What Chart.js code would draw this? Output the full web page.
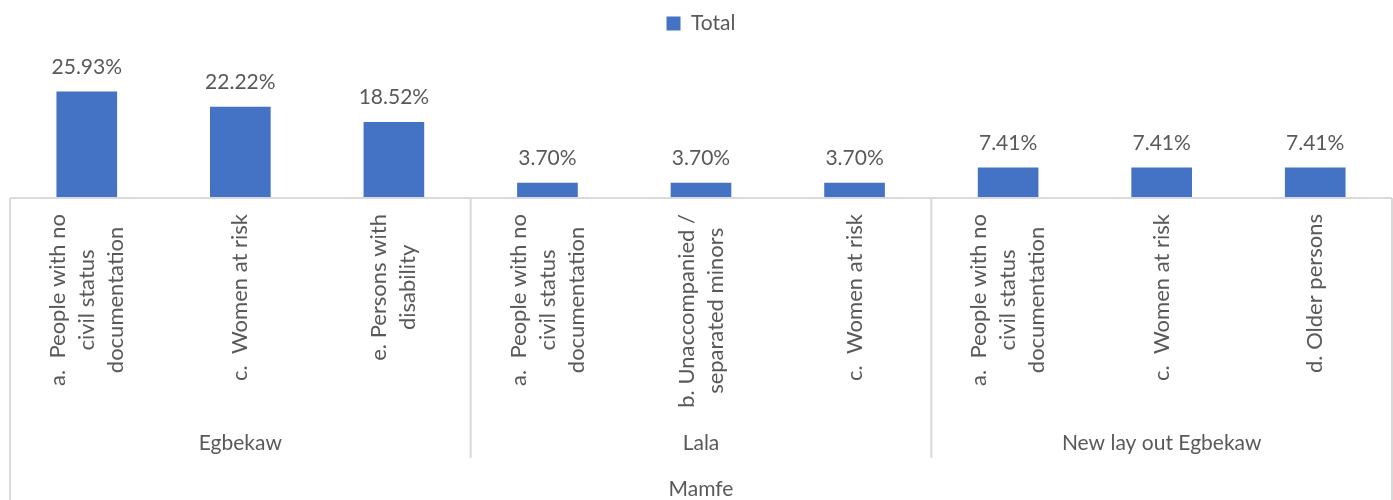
<!DOCTYPE html>
<html>
<head>
<meta charset="utf-8">
<script src="https://cdn.jsdelivr.net/npm/chart.js@4.4.0/dist/chart.umd.min.js"></script>
<style>
  html, body { margin: 0; padding: 0; background: #fff; }
  #wrap { width: 1393px; height: 500px; }
</style>
</head>
<body>
<div id="wrap"><canvas id="chart"></canvas></div>
<script>
// data
const categories = [
  ["a.  People with no", "civil status", "documentation"],
  ["c.  Women at risk"],
  ["e. Persons with", "disability"],
  ["a.  People with no", "civil status", "documentation"],
  ["b. Unaccompanied /", "separated minors"],
  ["c.  Women at risk"],
  ["a.  People with no", "civil status", "documentation"],
  ["c.  Women at risk"],
  ["d. Older persons"],
];
const values = [25.93, 22.22, 18.52, 3.70, 3.70, 3.70, 7.41, 7.41, 7.41];
const groups = ["Egbekaw", "Lala", "New lay out Egbekaw"];
const groupSizes = [3, 3, 3];
const topGroup = "Mamfe";
const seriesName = "Total";

const TEXT = "#595959";
const LINE = "#d9d9d9";
const FONT = "Lato, 'Open Sans', sans-serif";

// value labels above the bars
const valueLabels = {
  id: "valueLabels",
  afterDatasetsDraw(chart) {
    const { ctx } = chart;
    const meta = chart.getDatasetMeta(0);
    ctx.save();
    ctx.font = `21px ${FONT}`;
    ctx.fillStyle = TEXT;
    ctx.textAlign = "center";
    ctx.textBaseline = "alphabetic";
    meta.data.forEach((bar, i) => {
      ctx.fillText(values[i].toFixed(2) + "%", bar.x, bar.y - 18);
    });
    ctx.restore();
  },
};

// multi-level category axis drawn under the plot
const multiAxis = {
  id: "multiAxis",
  afterDraw(chart) {
    const { ctx, chartArea } = chart;
    const xs = chart.scales.x;
    const n = categories.length;
    const step = (chartArea.right - chartArea.left) / n;
    const y0 = chartArea.bottom;
    ctx.save();

    // lines
    ctx.strokeStyle = LINE;
    ctx.lineWidth = 2;
    ctx.beginPath();
    ctx.moveTo(chartArea.left, y0);
    ctx.lineTo(chartArea.right, y0);
    ctx.moveTo(chartArea.left, y0);
    ctx.lineTo(chartArea.left, chart.height);
    ctx.moveTo(chartArea.right, y0);
    ctx.lineTo(chartArea.right, chart.height);
    let idx = 0;
    groupSizes.forEach((s, g) => {
      idx += s;
      if (g < groupSizes.length - 1) {
        const x = chartArea.left + idx * step;
        ctx.moveTo(x, y0);
        ctx.lineTo(x, 458);
      }
    });
    ctx.stroke();

    ctx.fillStyle = TEXT;

    // rotated category labels
    ctx.font = `22px ${FONT}`;
    ctx.textAlign = "center";
    ctx.textBaseline = "middle";
    const lineGap = 29;
    categories.forEach((lines, i) => {
      const cx = xs.getPixelForValue(i);
      const maxW = Math.max(...lines.map((l) => ctx.measureText(l).width));
      const cy = y0 + 16 + maxW / 2;
      lines.forEach((l, k) => {
        const lx = cx + (k - (lines.length - 1) / 2) * lineGap;
        ctx.save();
        ctx.translate(lx, cy);
        ctx.rotate(-Math.PI / 2);
        ctx.fillText(l, 0, 0);
        ctx.restore();
      });
    });

    // group labels
    ctx.font = `21px ${FONT}`;
    let start = 0;
    groups.forEach((name, g) => {
      const x1 = chartArea.left + start * step;
      const x2 = chartArea.left + (start + groupSizes[g]) * step;
      ctx.fillText(name, (x1 + x2) / 2, 443);
      start += groupSizes[g];
    });
    ctx.fillText(topGroup, (chartArea.left + chartArea.right) / 2, 489);
    ctx.restore();
  },
};

const ctx = document.getElementById("chart").getContext("2d");
new Chart(ctx, {
  type: "bar",
  data: {
    labels: categories,
    datasets: [
      {
        label: seriesName,
        data: values,
        backgroundColor: "#4472C4",
        barPercentage: 0.395,
        categoryPercentage: 1,
      },
    ],
  },
  options: {
    responsive: true,
    maintainAspectRatio: false,
    animation: false,
    layout: { padding: { left: 10, right: 1, top: 5, bottom: 294 } },
    plugins: {
      legend: {
        display: true,
        position: "top",
        labels: {
          boxWidth: 14,
          boxHeight: 14,
          padding: 8,
          color: TEXT,
          font: { family: FONT, size: 21 },
        },
      },
      tooltip: { enabled: false },
    },
    scales: {
      x: {
        grid: { display: false },
        border: { display: false },
        ticks: { display: false },
      },
      y: {
        display: false,
        min: 0,
        max: 37.5,
      },
    },
  },
  plugins: [valueLabels, multiAxis],
});
</script>
</body>
</html>
